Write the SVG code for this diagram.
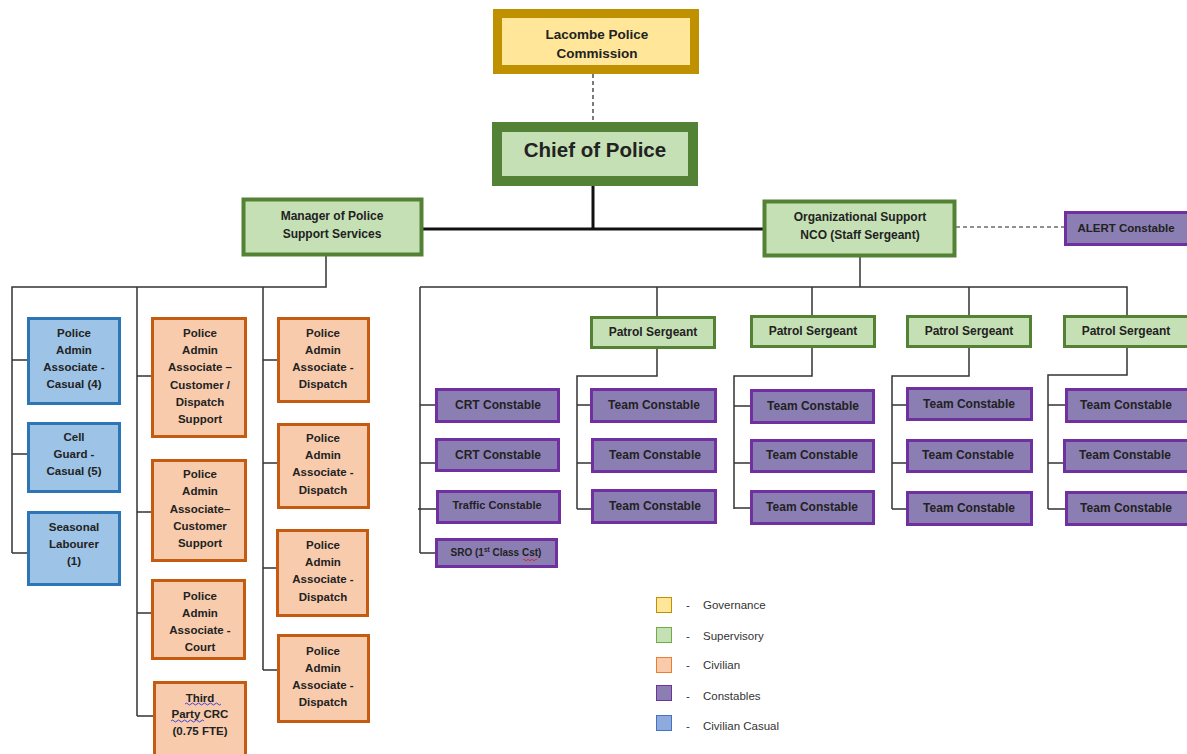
<svg xmlns="http://www.w3.org/2000/svg" width="1187" height="754" viewBox="0 0 1187 754">
<style>
text{font-family:"Liberation Sans",Arial,sans-serif;font-weight:bold;fill:#222;text-anchor:middle}
.gov{fill:#FFE699;stroke:#BF9000;stroke-width:9}
.sup{fill:#C5E0B4;stroke:#548235;stroke-width:3}
.civ{fill:#F8CBAD;stroke:#C55A11;stroke-width:3}
.con{fill:#8B7EB2;stroke:#7030A0;stroke-width:3}
.cas{fill:#9DC3E6;stroke:#2E75B6;stroke-width:3}
.s{font-size:11.5px}
.m{font-size:12px}
.ln{fill:none;stroke:#333;stroke-width:1.5}
.thick{fill:none;stroke:#111;stroke-width:3}
.dash{fill:none;stroke:#222;stroke-width:1.2;stroke-dasharray:4,3}
.lg{font-weight:normal;font-size:11.5px;text-anchor:start;fill:#333}
.sq{fill:none;stroke-width:0.9}
</style>
<g id="connectors">
<path class="dash" d="M593 74V121"/>
<path class="thick" d="M593 186V229M421 229H765"/>
<path class="dash" d="M956 227H1064"/>
<path class="ln" d="M326 256V287H12V553M12 360H27M12 454H27M12 553H27"/>
<path class="ln" d="M137 287V716M137 376H151M137 512H151M137 613H151M137 716H153"/>
<path class="ln" d="M263 287V670M263 360H277M263 463H277M263 568H276M263 670H277"/>
<path class="ln" d="M860 257V287M420 287H1127V315M420 287V553M420 405H435M420 463H435M418 509H436M420 553H435"/>
<path class="ln" d="M657 287V316M657 349V376H577V509M577 405H590M577 463H591M577 509H591"/>
<path class="ln" d="M812 287V315M812 348V376H734V509M734 406H750M734 463H750M734 508H750"/>
<path class="ln" d="M969 287V315M969 348V376H892V509M892 405H906M892 463H906M892 509H906"/>
<path class="ln" d="M1127 348V375H1048V509M1048 405H1065M1048 463H1063M1048 509H1065"/>
</g>
<g id="commission"><rect class="gov" x="497.5" y="13.5" width="197" height="56"/><text x="597" y="39" style="font-size:13.5px">Lacombe Police</text><text x="597" y="58" style="font-size:13.5px">Commission</text></g>
<g id="chief"><rect fill="#C5E0B4" stroke="#538135" stroke-width="10" x="497" y="127" width="196" height="54"/><text x="595" y="157" style="font-size:20.5px">Chief of Police</text></g>
<g id="manager"><rect class="sup" x="243.5" y="199.5" width="178" height="55" style="stroke-width:4"/><text class="m" x="332" y="220">Manager of Police</text><text class="m" x="332" y="238">Support Services</text></g>
<g id="orgsupport"><rect class="sup" x="764.5" y="201.5" width="190" height="54" style="stroke-width:4"/><text class="m" x="860" y="221">Organizational Support</text><text class="m" x="860" y="239">NCO (Staff Sergeant)</text></g>
<g id="alert"><rect class="con" x="1065.5" y="212.5" width="130" height="32"/><text class="s" x="1126" y="232">ALERT Constable</text></g>
<g id="casual1"><rect class="cas" x="28.5" y="318.5" width="91" height="85"/><text class="s" x="74" y="337">Police</text><text class="s" x="74" y="354">Admin</text><text class="s" x="74" y="371">Associate -</text><text class="s" x="74" y="388">Casual (4)</text></g>
<g id="casual2"><rect class="cas" x="28.5" y="423.5" width="91" height="68"/><text class="s" x="74" y="441">Cell</text><text class="s" x="74" y="458">Guard -</text><text class="s" x="74" y="475">Casual (5)</text></g>
<g id="casual3"><rect class="cas" x="28.5" y="512.5" width="91" height="72"/><text class="s" x="74" y="531">Seasonal</text><text class="s" x="74" y="548">Labourer</text><text class="s" x="74" y="565">(1)</text></g>
<g id="civ-a"><rect class="civ" x="152.5" y="318.5" width="93" height="118"/><text class="s" x="200" y="337">Police</text><text class="s" x="200" y="354">Admin</text><text class="s" x="200" y="371">Associate –</text><text class="s" x="200" y="389">Customer /</text><text class="s" x="200" y="406">Dispatch</text><text class="s" x="200" y="423">Support</text></g>
<g id="civ-b"><rect class="civ" x="152.5" y="460.5" width="93" height="100"/><text class="s" x="200" y="478">Police</text><text class="s" x="200" y="495">Admin</text><text class="s" x="200" y="513">Associate–</text><text class="s" x="200" y="530">Customer</text><text class="s" x="200" y="547">Support</text></g>
<g id="civ-c"><rect class="civ" x="152.5" y="580.5" width="92" height="78"/><text class="s" x="200" y="600">Police</text><text class="s" x="200" y="617">Admin</text><text class="s" x="200" y="634">Associate -</text><text class="s" x="200" y="651">Court</text></g>
<g id="civ-d"><rect class="civ" x="154.5" y="682.5" width="91" height="80"/><text class="s" x="200" y="702">Third</text><text class="s" x="200" y="718">Party CRC</text><text class="s" x="200" y="735">(0.75 FTE)</text><path class="sq" stroke="#3333dd" d="M185 704q1.5 -2 3 0t3 0t3 0t3 0t3 0t3 0t3 0t3 0t3 0t3 0t3 0t3 0"/><path class="sq" stroke="#3333dd" d="M171 721q1.5 -2 3 0t3 0t3 0t3 0t3 0t3 0t3 0t3 0t3 0t3 0t3 0"/></g>
<g id="civ-e"><rect class="civ" x="278.5" y="318.5" width="90" height="83"/><text class="s" x="323" y="337">Police</text><text class="s" x="323" y="354">Admin</text><text class="s" x="323" y="371">Associate -</text><text class="s" x="323" y="388">Dispatch</text></g>
<g id="civ-f"><rect class="civ" x="278.5" y="424.5" width="90" height="83"/><text class="s" x="323" y="442">Police</text><text class="s" x="323" y="459">Admin</text><text class="s" x="323" y="476">Associate -</text><text class="s" x="323" y="494">Dispatch</text></g>
<g id="civ-g"><rect class="civ" x="277.5" y="530.5" width="90" height="85"/><text class="s" x="323" y="549">Police</text><text class="s" x="323" y="566">Admin</text><text class="s" x="323" y="583">Associate -</text><text class="s" x="323" y="601">Dispatch</text></g>
<g id="civ-h"><rect class="civ" x="278.5" y="635.5" width="90" height="86"/><text class="s" x="323" y="655">Police</text><text class="s" x="323" y="672">Admin</text><text class="s" x="323" y="689">Associate -</text><text class="s" x="323" y="706">Dispatch</text></g>
<g id="crt1"><rect class="con" x="436.5" y="389.5" width="122" height="32"/><text class="m" x="498" y="409">CRT Constable</text></g>
<g id="crt2"><rect class="con" x="436.5" y="439.5" width="122" height="31"/><text class="m" x="498" y="459">CRT Constable</text></g>
<g id="traffic"><rect class="con" x="437.5" y="491.5" width="122" height="31"/><text x="497" y="509" style="font-size:11px">Traffic Constable</text></g>
<g id="sro"><rect class="con" x="436.5" y="539.5" width="120" height="27"/><text x="496" y="556" style="font-size:10px">SRO (1<tspan style="font-size:6.5px" dy="-4">st</tspan><tspan dy="4"> Class Cst)</tspan></text><path class="sq" stroke="#dd2222" d="M523 560q1 -1.5 2 0t2 0t2 0t2 0t2 0t2 0t2 0"/></g>
<g id="ps1"><rect class="sup" x="591.5" y="317.5" width="123" height="30"/><text class="m" x="653" y="336">Patrol Sergeant</text></g>
<g id="ps2"><rect class="sup" x="751.5" y="316.5" width="123" height="30"/><text class="m" x="813" y="335">Patrol Sergeant</text></g>
<g id="ps3"><rect class="sup" x="907.5" y="316.5" width="123" height="30"/><text class="m" x="969" y="335">Patrol Sergeant</text></g>
<g id="ps4"><rect class="sup" x="1064.5" y="316.5" width="130" height="30"/><text class="m" x="1126" y="335">Patrol Sergeant</text></g>
<g id="t1a"><rect class="con" x="591.5" y="389.5" width="124" height="32"/><text class="m" x="654" y="409">Team Constable</text></g>
<g id="t1b"><rect class="con" x="592.5" y="439.5" width="123" height="32"/><text class="m" x="655" y="459">Team Constable</text></g>
<g id="t1c"><rect class="con" x="592.5" y="490.5" width="123" height="32"/><text class="m" x="655" y="510">Team Constable</text></g>
<g id="t2a"><rect class="con" x="751.5" y="390.5" width="122" height="32"/><text class="m" x="813" y="410">Team Constable</text></g>
<g id="t2b"><rect class="con" x="751.5" y="440.5" width="122" height="31"/><text class="m" x="812" y="459">Team Constable</text></g>
<g id="t2c"><rect class="con" x="751.5" y="491.5" width="122" height="32"/><text class="m" x="812" y="511">Team Constable</text></g>
<g id="t3a"><rect class="con" x="907.5" y="388.5" width="124" height="31"/><text class="m" x="969" y="408">Team Constable</text></g>
<g id="t3b"><rect class="con" x="907.5" y="440.5" width="124" height="31"/><text class="m" x="968" y="459">Team Constable</text></g>
<g id="t3c"><rect class="con" x="907.5" y="492.5" width="124" height="32"/><text class="m" x="969" y="512">Team Constable</text></g>
<g id="t4a"><rect class="con" x="1066.5" y="389.5" width="128" height="32"/><text class="m" x="1126" y="409">Team Constable</text></g>
<g id="t4b"><rect class="con" x="1064.5" y="440.5" width="130" height="31"/><text class="m" x="1125" y="459">Team Constable</text></g>
<g id="t4c"><rect class="con" x="1066.5" y="492.5" width="128" height="32"/><text class="m" x="1126" y="512">Team Constable</text></g>
<g id="legend">
<rect x="656.5" y="597.5" width="15" height="15" fill="#FFE699" stroke="#BF9000"/>
<rect x="656.5" y="627.5" width="15" height="15" fill="#C5E0B4" stroke="#70AD47"/>
<rect x="656.5" y="657.5" width="15" height="15" fill="#F8CBAD" stroke="#ED7D31"/>
<rect x="656.5" y="685.5" width="15" height="15" fill="#8B7EB2" stroke="#7030A0"/>
<rect x="656.5" y="715.5" width="15" height="15" fill="#8FAADC" stroke="#4472C4"/>
<text class="lg" x="686" y="609">-</text><text class="lg" x="703" y="609">Governance</text>
<text class="lg" x="686" y="640">-</text><text class="lg" x="703" y="640">Supervisory</text>
<text class="lg" x="686" y="669">-</text><text class="lg" x="703" y="669">Civilian</text>
<text class="lg" x="686" y="700">-</text><text class="lg" x="703" y="700">Constables</text>
<text class="lg" x="686" y="730">-</text><text class="lg" x="703" y="730">Civilian Casual</text>
</g>
</svg>
